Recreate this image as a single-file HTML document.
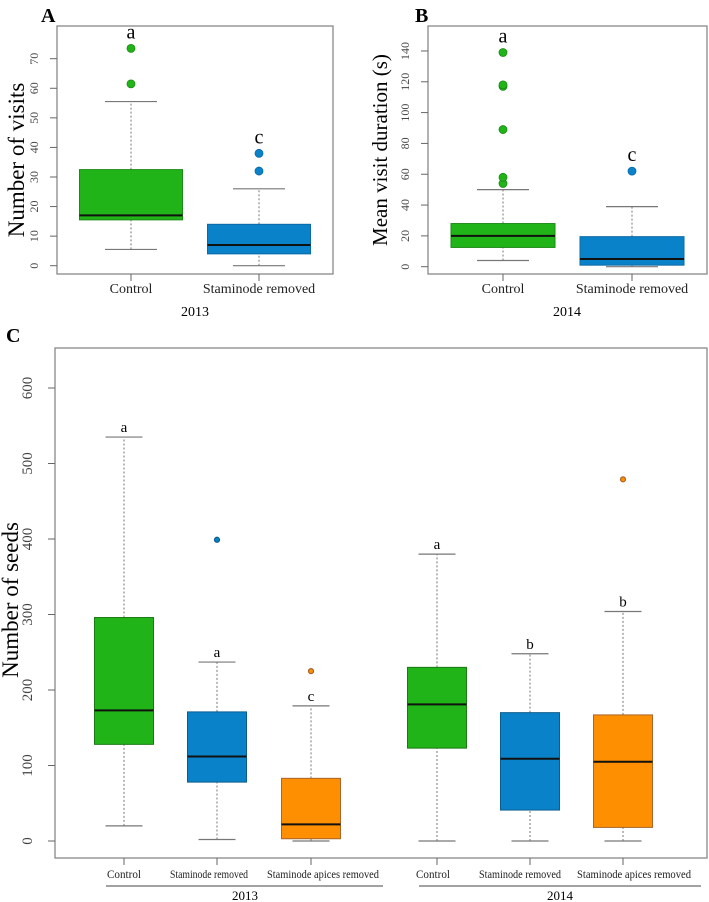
<!DOCTYPE html>
<html><head><meta charset="utf-8"><style>
body{margin:0;background:#fff;}
svg{display:block;font-family:"Liberation Serif",serif;}
</style></head><body>
<svg id="fig" width="709" height="902" viewBox="0 0 709 902">
<text x="41" y="22" font-size="20" font-weight="bold">A</text>
<text x="415" y="22" font-size="20" font-weight="bold">B</text>
<text x="6" y="342" font-size="20" font-weight="bold">C</text>
</svg>
<script>
// Panel A data
const aCats = ["Control","Staminode removed"];
const aLow = [5.5, 0];
const aQ1 = [15.5, 4];
const aMed = [17, 7];
const aQ3 = [32.5, 14];
const aHigh = [55.5, 26];
const aOut = [[61.5, 73.5],[32, 38]];
const aLetters = ["a","c"];
const aTicks = [0,10,20,30,40,50,60,70];
// Panel B data
const bCats = ["Control","Staminode removed"];
const bLow = [4, 0];
const bQ1 = [12.5, 1];
const bMed = [20, 5];
const bQ3 = [28, 19.5];
const bHigh = [50, 39];
const bOut = [[54, 58, 89, 117, 118, 139],[62]];
const bLetters = ["a","c"];
const bTicks = [0,20,40,60,80,100,120,140];
// Panel C data
const cCats = ["Control","Staminode removed","Staminode apices removed","Control","Staminode removed","Staminode apices removed"];
const cLow = [20, 2, 0, 0, 0, 0];
const cQ1 = [128, 78, 3, 123, 41, 18];
const cMed = [173, 112, 22, 181, 109, 105];
const cQ3 = [296, 171, 83, 230, 170, 167];
const cHigh = [535, 237, 179, 380, 248, 304];
const cOut = [[],[399],[225],[],[],[479]];
const cLetters = ["a","a","c","a","b","b"];
const cTicks = [0,100,200,300,400,500,600];
const cYears = ["2013","2014"];

const colA = ["#21b418","#0a82c9"];
const colC = ["#21b418","#0a82c9","#fd8f00","#21b418","#0a82c9","#fd8f00"];
const edgeC = ["#1a7a14","#0b5d8e","#a9652a","#1a7a14","#0b5d8e","#a9652a"];
const NS="http://www.w3.org/2000/svg";
const svg=document.getElementById('fig');
function mk(tag,attrs,parent,txt){const e=document.createElementNS(NS,tag);for(const k in attrs)e.setAttribute(k,attrs[k]);if(txt!==undefined)e.textContent=txt;(parent||svg).appendChild(e);return e;}

function panel(o){
  const g=mk('g',{});
  
  
  const y=v=>o.y0-(v-o.v0)*o.ppu;
  const fr=mk('rect',{x:o.L,y:o.T,width:o.R-o.L,height:o.B-o.T,fill:'none',stroke:'#888','stroke-width':1.3},g);
  
  
  const ax=o.L;
  o.ticks.forEach(t=>{
    mk('line',{x1:ax-o.tickLen,x2:ax,y1:y(t),y2:y(t),stroke:'#666'},g);
    const tx=ax-o.tickLen-o.tickGap;
    const tl=mk('text',{x:tx,y:y(t),'font-size':o.tickFs,fill:'#444','text-anchor':'middle',transform:`rotate(-90 ${tx} ${y(t)})`},g,t);
    
    
  });
  const yl=mk('text',{x:o.ylx,y:o.yly,'font-size':o.ylFs,'text-anchor':'middle',transform:`rotate(-90 ${o.ylx} ${o.yly})`},g,o.ylabel);
  
  
  const xa=o.B;
  o.cats.forEach((c,i)=>{
    const x=o.xs[i];
    mk('line',{x1:x,x2:x,y1:xa,y2:xa+o.tickLen,stroke:'#666'},g);
    const attrs={x:(o.xlx?o.xlx[i]:x),y:o.xly,'font-size':o.xlFs,'text-anchor':'middle',fill:'#222'};
    if(o.xlLen){attrs.textLength=o.xlLen[i];attrs.lengthAdjust='spacingAndGlyphs';}
    const xl=mk('text',attrs,g,c);
    
    
    const hw=o.bw/2, cw=o.cw/2;
    const wl=mk('line',{x1:x,x2:x,y1:y(o.low[i]),y2:y(o.q1[i]),stroke:'#777','stroke-dasharray':'2,2'},g);
    
    
    const wh=mk('line',{x1:x,x2:x,y1:y(o.q3[i]),y2:y(o.high[i]),stroke:'#777','stroke-dasharray':'2,2'},g);
    
    
    mk('line',{x1:x-cw,x2:x+cw,y1:y(o.low[i]),y2:y(o.low[i]),stroke:'#777','stroke-width':1.2},g);
    mk('line',{x1:x-cw,x2:x+cw,y1:y(o.high[i]),y2:y(o.high[i]),stroke:'#777','stroke-width':1.2},g);
    const bx=mk('rect',{x:x-hw,y:y(o.q3[i]),width:o.bw,height:y(o.q1[i])-y(o.q3[i]),fill:o.col[i],stroke:o.edge[i],'stroke-width':1},g);
    
    
    const md=mk('line',{x1:x-hw,x2:x+hw,y1:y(o.med[i]),y2:y(o.med[i]),stroke:'#111','stroke-width':2},g);
    
    
    o.out[i].forEach(v=>{
      const p=mk('circle',{cx:x,cy:y(v),r:o.r,fill:o.col[i],stroke:o.edge[i],'stroke-width':o.r>3?0.8:1.2},g);
      
      
    });
    const topv=o.out[i].length&&o.letterAboveOut?Math.max(...o.out[i]):o.high[i];
    const lt=mk('text',{x:x,y:y(topv)-o.letterGap,'font-size':o.letFs,'text-anchor':'middle'},g,o.letters[i]);
    
    
  });
  return g;
}

const gA=panel({name:'panel-a-chart',L:57,R:333,T:26,B:274,y0:265.7,v0:0,ppu:2.957,ticks:aTicks,tickLen:7,tickGap:12,tickFs:12,
  ylabel:'Number of visits',ylx:24,yly:160,ylFs:23,xs:[131,259],cats:aCats,xly:293,xlFs:14,
  bw:103,cw:52,low:aLow,q1:aQ1,med:aMed,q3:aQ3,high:aHigh,out:aOut,col:colA,edge:["#1a8a14","#0b6aa4"],r:4,
  letters:aLetters,letterAboveOut:true,letterGap:10,letFs:20});
const yrA=mk('text',{x:195,y:316,'font-size':14,'text-anchor':'middle'},gA,'2013');



const gB=panel({name:'panel-b-chart',L:428,R:707,T:26,B:274,y0:266.7,v0:0,ppu:1.541,ticks:bTicks,tickLen:7,tickGap:12,tickFs:12,
  ylabel:'Mean visit  duration (s)',ylx:387,yly:150,ylFs:21,xs:[503,632],cats:bCats,xly:293,xlFs:14,
  bw:104,cw:52,low:bLow,q1:bQ1,med:bMed,q3:bQ3,high:bHigh,out:bOut,col:colA,edge:["#1a8a14","#0b6aa4"],r:4,
  letters:bLetters,letterAboveOut:true,letterGap:10,letFs:20});
const yrB=mk('text',{x:567,y:316,'font-size':14,'text-anchor':'middle'},gB,'2014');



const gC=panel({name:'panel-c-chart',L:55,R:707,T:348,B:858,y0:841,v0:0,ppu:0.755,ticks:cTicks,tickLen:7,tickGap:16,tickFs:15,
  ylabel:'Number of seeds',ylx:18,yly:600,ylFs:23,xs:[124,217,311,437,530,623],cats:cCats,xly:878,xlFs:12,
  xlx:[124,209,323,433,520,634],xlLen:[34,78,112,34,82,114],
  bw:59,cw:37,low:cLow,q1:cQ1,med:cMed,q3:cQ3,high:cHigh,out:cOut,col:colC,edge:edgeC,r:2.5,
  letters:cLetters,letterAboveOut:false,letterGap:5,letFs:15});
[[106,383,245],[419,701,560]].forEach((s,i)=>{
  const ln=mk('line',{x1:s[0],x2:s[1],y1:886,y2:886,stroke:'#444'},gC);
  
  
  const t=mk('text',{x:s[2],y:900,'font-size':13,'text-anchor':'middle'},gC,cYears[i]);
  
  
});
</script>
</body></html>
